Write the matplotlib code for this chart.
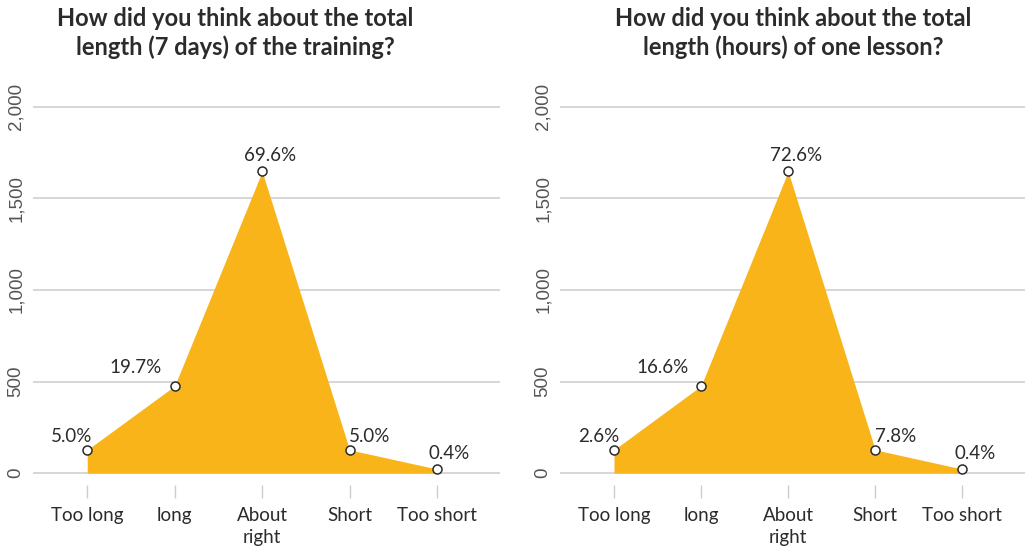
import matplotlib
matplotlib.use("Agg")
import matplotlib.pyplot as plt
from matplotlib.ticker import FuncFormatter

categories = ["Too long", "long", "About\nright", "Short", "Too short"]

# response counts per answer
training_counts = [127, 476, 1647, 127, 22]
lesson_counts = [127, 476, 1647, 127, 22]

# share of respondents shown above each point
training_pct = ["5.0%", "19.7%", "69.6%", "5.0%", "0.4%"]
lesson_pct = ["2.6%", "16.6%", "72.6%", "7.8%", "0.4%"]

training_title = "How did you think about the total\nlength (7 days) of the training?"
lesson_title = "How did you think about the total\nlength (hours) of one lesson?"

y_ticks = [0, 500, 1000, 1500, 2000]

FILL = "#F9B41A"
TEXT = "#2b2b2b"
GRID = "#cccccc"
W, H = 1025, 547

# label offsets in points (dx, dy) per category
label_offsets = [(-11, 9.5), (-28, 13), (6, 11.5), (14.5, 9.5), (9, 11)]


def draw_panel(ax, counts, pct, title, title_x):
    x = list(range(len(categories)))
    ax.fill_between(x, 0, counts, color=FILL, linewidth=0, zorder=2)
    ax.plot(x, counts, linestyle="none", marker="o", markersize=6.5,
            markerfacecolor="white", markeredgecolor=TEXT,
            markeredgewidth=1.1, zorder=4, clip_on=False)
    for xi, yi, lab, off in zip(x, counts, pct, label_offsets):
        ax.annotate(lab, (xi, yi), xytext=off, textcoords="offset points",
                    ha="center", va="center", fontsize=13.5, color=TEXT,
                    family="Lato", zorder=5)

    ax.set_xlim(-0.62, 4.72)
    ax.set_ylim(-65, 2010)
    ax.set_yticks(y_ticks)
    ax.yaxis.set_major_formatter(FuncFormatter(lambda v, _: f"{int(v):,}"))
    ax.set_xticks(x)
    ax.set_xticklabels(categories, family="Lato", fontsize=13.5, color=TEXT,
                       linespacing=1.4)
    ax.tick_params(axis="x", length=9.5, width=1, color=GRID, pad=6)
    ax.tick_params(axis="y", length=0, pad=6, labelsize=13.5, labelcolor="#555555")
    for t in ax.get_yticklabels():
        t.set_rotation(90)
        t.set_va("center")
        t.set_family("Liberation Sans")

    ax.grid(axis="y", color=GRID, linewidth=1.1, zorder=1)
    ax.set_axisbelow(True)
    for s in ax.spines.values():
        s.set_visible(False)

    fig.text(title_x / W, 1 - 33 / H, title, ha="center", va="center",
             fontsize=17, fontweight="bold", family="Lato", color=TEXT,
             linespacing=1.3)


fig = plt.figure(figsize=(W / 100, H / 100), dpi=100)
ax_left = fig.add_axes([33 / W, 1 - 485 / H, 467 / W, 380 / H])
ax_right = fig.add_axes([560 / W, 1 - 485 / H, 465 / W, 380 / H])

draw_panel(ax_left, training_counts, training_pct, training_title, 235)
draw_panel(ax_right, lesson_counts, lesson_pct, lesson_title, 793)

fig.savefig("out.png", dpi=100)
